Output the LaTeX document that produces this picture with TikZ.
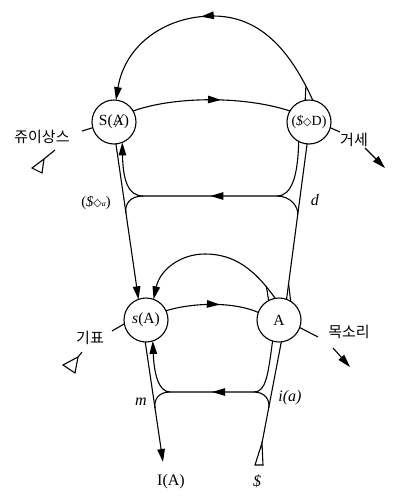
\documentclass[tikz,border=0pt]{standalone}
\usepackage{fontspec}
\setmainfont{Liberation Serif}
\newfontfamily\kr{Noto Sans CJK KR}
\newfontfamily\symf{DejaVu Sans}
\newcommand{\mydia}{{\symf\fontsize{11}{12}\selectfont\raisebox{0.5pt}{◇}}}
\usetikzlibrary{arrows.meta,decorations.markings,calc}
\begin{document}
\begin{tikzpicture}[x=1pt,y=-1pt,
 ln/.style={line width=1.1pt},
 circ/.style={circle,draw,line width=1.1pt,minimum size=44pt,inner sep=0pt,outer sep=0pt,font=\fontsize{15.5}{17}\selectfont},
 endarrow/.style={-{Triangle[length=13pt,width=7.5pt]}},
 midarrow/.style={decoration={markings,mark=at position #1 with {\arrow{Triangle[length=13pt,width=7.5pt]}}},postaction={decorate}},
 lab/.style={font=\fontsize{16}{18}\selectfont, inner sep=0pt},
 klab/.style={font=\kr\fontsize{15}{17}\selectfont, inner sep=0pt},
 tri/.style={line width=1.1pt,line join=miter}]
\useasboundingbox[fill=white] (0,0) rectangle (400,501);
% main nodes
\node[circ] (SA) at (114,122) {S(A)};
\draw[line width=0.6pt] ($(SA.center)+(9.5,-8)$) -- ($(SA.center)+(1,5)$);
\node[circ,font=\fontsize{14}{16}\selectfont] (SD) at (309,122) {(\textit{\$}\mydia D)};
\node[circ] (sA) at (146,320) {\textit{s}(A)};
\node[circ] (A) at (279,320) {A};
% top arc
\draw[ln,midarrow=0.54,endarrow] (SD.80) .. controls (290,50) and (260,16) .. (213,16) .. controls (165,16) and (125,45) .. (SA.85);
\coordinate (k1) at (305.9,86.2);
\draw[ln] (k1) -- (SD.100);
% upper horizontal
\draw[ln,midarrow=0.56] (SA.30) .. controls (175,96) and (245,96) .. (SD.150);
% upper return
\draw[ln,midarrow=0.5,endarrow] (SD.-118) .. controls (298,175) and (292,196) .. (277,196) -- (143,196) .. controls (128,196) and (123,180) .. (SA.-68);
\coordinate (d1) at ($(SD.-95)!0.46!(A.70)$);
\draw[ln] (277,196) .. controls (290,196) and ($(d1)+(1.3,-9)$) .. (d1);
\coordinate (s1) at ($(SA.-85)!0.445!(sA.110)$);
\draw[ln] (143,196) .. controls (130,196) and ($(s1)+(-1.4,-9)$) .. (s1);
% d line
\draw[ln] (SD.-95) -- (A.70);
\coordinate (k2) at ($(SD.-95)!0.9!(A.70)$);
\draw[ln] (k2) -- (A.58);
% S(A) -> s(A)
\draw[ln,endarrow] (SA.-85) -- (sA.110);
% lower arc
\draw[ln,endarrow] (A.100) .. controls (255,270) and (235,254) .. (205,254) .. controls (180,254) and (160,270) .. (sA.70);
\coordinate (k3) at (266.3,286);
\draw[ln] (k3) -- (A.118);
% lower horizontal
\draw[ln,midarrow=0.58] (sA.25) .. controls (195,302) and (235,302) .. (A.160);
% lower return
\draw[ln,midarrow=0.5,endarrow] (A.-107) .. controls (268,375) and (266,392) .. (254,392) -- (170,392) .. controls (158,392) and (154,372) .. (sA.-72);
\coordinate (tb) at (262,443);
\coordinate (d2) at ($(tb)!0.346!(A.-84)$);
\draw[ln] (254,392) .. controls (264,392) and ($(d2)+(1.7,-8.8)$) .. (d2);
\coordinate (iaend) at (163,462);
\coordinate (m1) at ($(sA.-92)!0.55!(iaend)$);
\draw[ln] (170,392) .. controls (159,392) and ($(m1)+(-1.3,-8.9)$) .. (m1);
\draw[ln,endarrow] (sA.-92) -- (iaend);
\draw[ln] (tb) -- (A.-84);
\draw[tri] (tb) -- (255,465) -- (263,465) -- cycle;
% labels
\node[lab] (IA) at (171,482) {I(A)};
\node[lab] (bS) at (257,481) {\textit{\$}};
\node[lab] (dl) at (315,200) {\textit{d}};
\node[lab] (ml) at (141,402) {\textit{m}};
\node[lab] (il) at (290,398) {\textit{i(a)}};
\node[lab,font=\fontsize{14.5}{16}\selectfont] (Sa) at (96,203) {(\textit{\$}\mydia{\fontsize{8}{9}\selectfont\textit{a}})};
% jouissance
\node[klab] (jou) at (42,137) {쥬이상스};
\coordinate (j1) at (82,131);
\draw[ln] (SA.195) -- (j1);
\coordinate (jt) at (55,150);
\coordinate (jt2) at (44,159);
\draw[ln] (jt) -- (jt2);
\draw[tri] (jt2) -- (32,168) -- (42,173) -- cycle;
% castration
\node[klab] (cas) at (354,140) {거세};
\coordinate (c1) at (340,132);
\draw[ln] (SD.-15) -- (c1);
\coordinate (c2) at (365,148);
\coordinate (c3) at (385,168);
\draw[ln,endarrow] (c2) -- (c3);
% voice
\node[klab] (voi) at (349,332) {목소리};
\coordinate (v1) at (318,337);
\draw[ln] (A.-20) -- (v1);
\coordinate (v2) at (333,348);
\coordinate (v3) at (350,367);
\draw[ln,endarrow] (v2) -- (v3);
% signifier
\node[klab] (sig) at (90,338) {기표};
\coordinate (g1) at (112,331);
\draw[ln] (g1) -- (sA.190);
\coordinate (g2) at (82,352);
\coordinate (g3) at (78,357);
\draw[ln] (g2) -- (g3);
\draw[tri] (g3) -- (63,365) -- (75,373) -- cycle;
\end{tikzpicture}
\end{document}
